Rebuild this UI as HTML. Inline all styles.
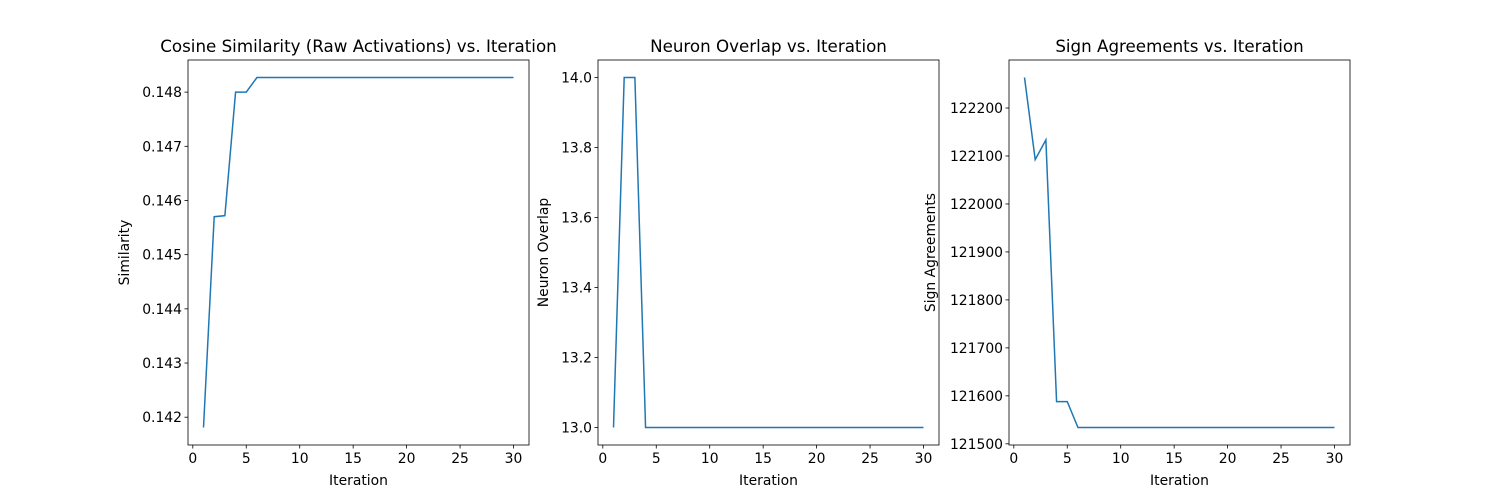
<!DOCTYPE html>
<html><head><meta charset="utf-8"><style>
body{margin:0;background:#fff;font-family:"DejaVu Sans","Liberation Sans",sans-serif}
</style></head><body>
<svg id="c" width="1500" height="500" xmlns="http://www.w3.org/2000/svg" font-family="DejaVu Sans, Liberation Sans, sans-serif"></svg>
<script>
const iterations = Array.from({length:30},(_,i)=>i+1);
const similarity = [0.14181,0.14570,0.14572,0.14800,0.14800].concat(Array(25).fill(0.14827));
const overlap = [13,14,14,13].concat(Array(26).fill(13));
const signAgree = [122263.6,122092.5,122133.5,121588,121588].concat(Array(25).fill(121534));
const xTicks = [0,5,10,15,20,25,30];
const simTicks = [0.142,0.143,0.144,0.145,0.146,0.147,0.148];
const overlapTicks = [13.0,13.2,13.4,13.6,13.8,14.0];
const signTicks = [121500,121600,121700,121800,121900,122000,122100,122200];
const panels = [
 {name:'similarity',x0:188,title:'Cosine Similarity (Raw Activations) vs. Iteration',ylab:'Similarity',data:similarity,ticks:simTicks,fmt:v=>v.toFixed(3)},
 {name:'neuron-overlap',x0:598,title:'Neuron Overlap vs. Iteration',ylab:'Neuron Overlap',data:overlap,ticks:overlapTicks,fmt:v=>v.toFixed(1)},
 {name:'sign-agreements',x0:1009,title:'Sign Agreements vs. Iteration',ylab:'Sign Agreements',data:signAgree,ticks:signTicks,fmt:v=>String(v)}
];
const svg=document.getElementById('c');const NS='http://www.w3.org/2000/svg';
function mk(t,a,p){const e=document.createElementNS(NS,t);for(const k in a)e.setAttribute(k,a[k]);(p||svg).appendChild(e);return e;}
const W=341,T=60,B=445,FS=13.9;
panels.forEach(p=>{
 const g=mk('g',{});
 
 
 const mn=Math.min(...p.data),mx=Math.max(...p.data),pad=(mx-mn)*0.05;
 const ylo=mn-pad,yhi=mx+pad;
 const xlo=1-29*0.05,xhi=30+29*0.05;
 const X=v=>p.x0+(v-xlo)/(xhi-xlo)*W;
 const Y=v=>B-(v-ylo)/(yhi-ylo)*(B-T);
 xTicks.forEach(t=>{const x=X(t);mk('line',{x1:x,x2:x,y1:B,y2:B+3.5,stroke:'#000','stroke-width':0.8},g);
  const tx=mk('text',{x:x,y:B+18,'font-size':FS,'text-anchor':'middle'},g);tx.textContent=t;
  
  });
 p.ticks.forEach(t=>{const y=Y(t);mk('line',{x1:p.x0-3.5,x2:p.x0,y1:y,y2:y,stroke:'#000','stroke-width':0.8},g);
  const tx=mk('text',{x:p.x0-6,y:y+5,'font-size':FS,'text-anchor':'end'},g);tx.textContent=p.fmt(t);
  
  });
 const line=mk('polyline',{points:iterations.map((it,i)=>X(it)+','+Y(p.data[i])).join(' '),fill:'none',stroke:'#1f77b4','stroke-width':1.5},g);
 
 
 mk('rect',{x:p.x0,y:T,width:W,height:B-T,fill:'none',stroke:'#000','stroke-width':0.8},g);
 const ti=mk('text',{x:p.x0+W/2,y:T-8,'font-size':16.7,'text-anchor':'middle'},g);ti.textContent=p.title;
 
 
 const xl=mk('text',{x:p.x0+W/2,y:485,'font-size':FS,'text-anchor':'middle'},g);xl.textContent='Iteration';
 
 
 const yx=p.name==='similarity'?p.x0-59:(p.name==='neuron-overlap'?p.x0-50:p.x0-74);
 const yl=mk('text',{x:yx,y:(T+B)/2,'font-size':FS,'text-anchor':'middle',transform:`rotate(-90 ${yx} ${(T+B)/2})`},g);yl.textContent=p.ylab;
 
 
});
</script>
</body></html>
